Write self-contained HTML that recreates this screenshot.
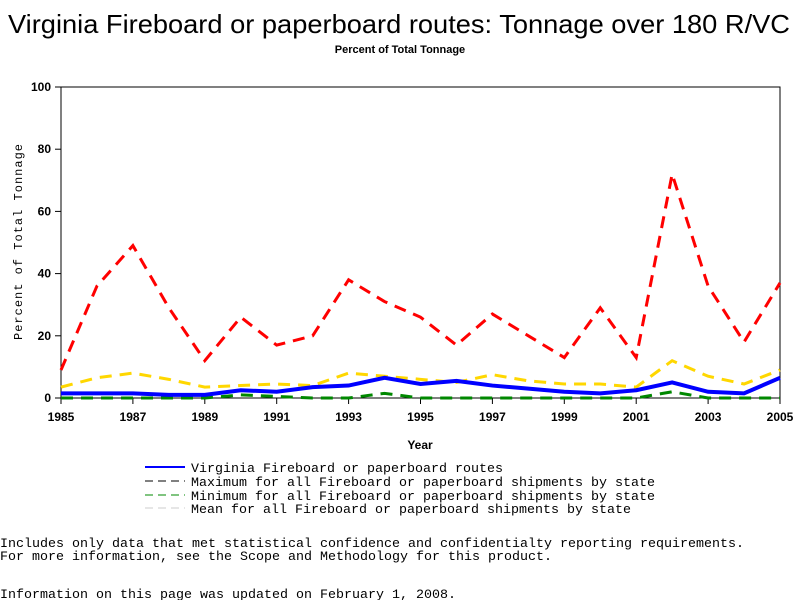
<!DOCTYPE html>
<html><head><meta charset="utf-8"><style>
body{margin:0;background:#fff;width:800px;height:600px;overflow:hidden;font-family:"Liberation Sans",sans-serif}
.m{font-family:"Liberation Mono",monospace}
</style></head><body>
<svg width="800" height="600" xmlns="http://www.w3.org/2000/svg">
<text x="8" y="33" font-size="26" textLength="782" lengthAdjust="spacingAndGlyphs">Virginia Fireboard or paperboard routes: Tonnage over 180 R/VC</text>
<text x="400" y="53" text-anchor="middle" font-size="11" font-weight="bold">Percent of Total Tonnage</text>
<rect x="61" y="87" width="719" height="311" fill="none" stroke="#000"/>
<g id="axes"></g>
<g id="series"></g>
<text x="420" y="449" text-anchor="middle" font-size="12" font-weight="bold">Year</text>
<text transform="translate(22,242) rotate(-90)" text-anchor="middle" font-size="12" class="m" textLength="196" lengthAdjust="spacing">Percent of Total Tonnage</text>
<g class="m" font-size="13">
<g><line x1="145" y1="467" x2="185" y2="467" stroke="#00f" stroke-width="2"/><text x="191" y="472" textLength="312" lengthAdjust="spacingAndGlyphs">Virginia Fireboard or paperboard routes</text></g>
<g><line x1="145" y1="481" x2="185" y2="481" stroke="#000" stroke-dasharray="8,5"/><text x="191" y="486" textLength="464" lengthAdjust="spacingAndGlyphs">Maximum for all Fireboard or paperboard shipments by state</text></g>
<g><line x1="145" y1="495" x2="185" y2="495" stroke="#080" stroke-dasharray="8,5"/><text x="191" y="500" textLength="464" lengthAdjust="spacingAndGlyphs">Minimum for all Fireboard or paperboard shipments by state</text></g>
<g><line x1="145" y1="508" x2="185" y2="508" stroke="#ccc" stroke-dasharray="8,5"/><text x="191" y="513" textLength="440" lengthAdjust="spacingAndGlyphs">Mean for all Fireboard or paperboard shipments by state</text></g>
</g>
<g class="m" font-size="13">
<text x="0" y="547" textLength="744" lengthAdjust="spacingAndGlyphs">Includes only data that met statistical confidence and confidentialty reporting requirements.</text>
<text x="0" y="560" textLength="552" lengthAdjust="spacingAndGlyphs">For more information, see the Scope and Methodology for this product.</text>
<text x="0" y="598" textLength="456" lengthAdjust="spacingAndGlyphs">Information on this page was updated on February 1, 2008.</text>
</g>
</svg>
<script>
const years=[1985,1986,1987,1988,1989,1990,1991,1992,1993,1994,1995,1996,1997,1998,1999,2000,2001,2002,2003,2004,2005];
const maxVals=[9,36,49,29,12,26,17,20,38,31,26,17,27,20,13,29,13,72,36,18,37];
const meanVals=[3.5,6.5,8,6,3.5,4,4.5,4,8,7,6,5,7.5,5.5,4.5,4.5,3.5,12,7,4.5,9];
const vaVals=[1.5,1.5,1.5,1,1,2.5,2,3.5,4,6.5,4.5,5.5,4,3,2,1.5,2.5,5,2,1.5,6.5];
const minVals=[0,0,0,0,0,1,0.5,0,0,1.5,0,0,0,0,0,0,0,2,0,0,0];
const xTicks=[1985,1987,1989,1991,1993,1995,1997,1999,2001,2003,2005];
const yTicks=[0,20,40,60,80,100];
const NS="http://www.w3.org/2000/svg";
const X=v=>61+(v-1985)*(719/20), Y=v=>398-v*3.11;
const ax=document.getElementById('axes'), sg=document.getElementById('series');
function mk(t,a,p){const e=document.createElementNS(NS,t);for(const k in a)e.setAttribute(k,a[k]);p.appendChild(e);return e;}
xTicks.forEach(t=>{
 const l=mk('line',{x1:X(t),x2:X(t),y1:398,y2:404,stroke:'#000'},ax);
 
 
 const tx=mk('text',{x:X(t),y:421,'text-anchor':'middle','font-size':12,'font-weight':'bold'},ax);tx.textContent=t;
 
 
});
yTicks.forEach(t=>{
 const l=mk('line',{x1:55,x2:61,y1:Y(t),y2:Y(t),stroke:'#000'},ax);
 
 
 const tx=mk('text',{x:51,y:Y(t)+4,'text-anchor':'end','font-size':12,'font-weight':'bold'},ax);tx.textContent=t;
 
 
});
function line(vals,color,w,dash,name){
 const p=mk('polyline',{points:vals.map((v,i)=>X(years[i])+','+Y(v)).join(' '),fill:'none',stroke:color,'stroke-width':w,'stroke-dasharray':dash},sg);
 
 
}
line(maxVals,'#f00',3,'12,8','series-maximum');
line(meanVals,'#ffd700',3,'12,8','series-mean');
line(minVals,'#080',3,'12,8','series-minimum');
line(vaVals,'#00f',4,'','series-virginia');
</script>
</body></html>
